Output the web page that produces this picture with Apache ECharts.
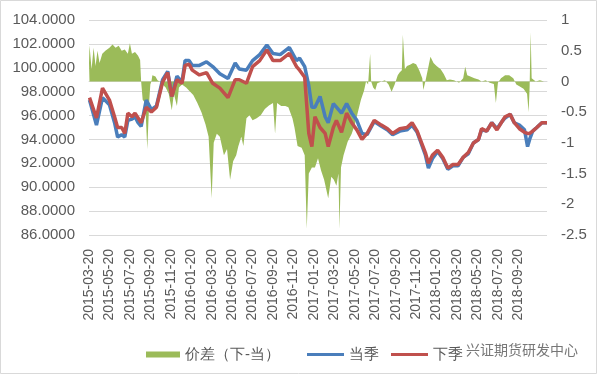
<!DOCTYPE html>
<html>
<head>
<meta charset="utf-8">
<script src="https://cdn.jsdelivr.net/npm/echarts@6/dist/echarts.min.js"></script>
<style>
  html, body { margin: 0; padding: 0; background: #fff; }
  #myChart { width: 600px; height: 377px; }
</style>
</head>
<body>
<div id="myChart"></div>
<script>
// x = months since 2015-03-20
const dateLabels = ['2015-03-20', '2015-05-20', '2015-07-20', '2015-09-20', '2015-11-20',
  '2016-01-20', '2016-03-20', '2016-05-20', '2016-07-20', '2016-09-20', '2016-11-20',
  '2017-01-20', '2017-03-20', '2017-05-20', '2017-07-20', '2017-09-20', '2017-11-20',
  '2018-01-20', '2018-03-20', '2018-05-20', '2018-07-20', '2018-09-20']

const months = [0.05, 0.73, 1.32, 2.0, 2.5, 2.8, 3.2, 3.5, 3.8, 4.2,
  4.5, 4.8, 5.1, 5.6, 6.1, 6.6, 7.2, 7.7, 8.1, 8.6,
  9.1, 9.4, 9.8, 10.1, 10.8, 11.5, 12.1, 12.8, 13.6, 14.3,
  14.7, 15.4, 16.0, 16.7, 17.4, 18.0, 18.7, 19.6, 20.3, 20.6,
  21.1, 21.5, 21.8, 22.1, 22.6, 23.1, 23.4, 23.9, 24.2, 24.7,
  25.2, 25.7, 26.2, 26.7, 27.2, 27.9, 28.6, 29.2, 29.7, 30.4,
  31.1, 31.6, 32.1, 32.4, 32.9, 33.2, 33.6, 34.1, 34.6, 35.1,
  35.6, 36.1, 36.6, 37.1, 37.6, 38.1, 38.4, 38.9, 39.4, 39.9,
  40.4, 40.7, 41.2, 41.6, 42.1, 42.6, 42.9, 43.1, 43.4, 43.8,
  44.3, 44.8]

// 当季
const dangji = [97.3, 95.2, 97.5, 96.9, 95.4, 94.2, 94.4, 94.2, 95.6, 95.7,
  95.9, 95.4, 95.1, 97.3, 96.5, 96.8, 99.0, 99.7, 97.6, 99.3,
  98.8, 100.6, 100.6, 100.2, 100.2, 100.5, 100.1, 99.5, 99.1, 100.4,
  99.9, 99.8, 100.6, 101.1, 101.9, 101.2, 101.1, 101.7, 100.6, 100.8,
  100.1, 98.5, 96.7, 96.7, 97.6, 95.9, 95.4, 97.0, 96.7, 96.2,
  97.0, 96.2, 95.6, 94.5, 94.4, 95.5, 95.1, 94.8, 94.4, 94.7,
  94.8, 95.2, 94.6, 93.9, 92.7, 91.6, 92.4, 93.0, 92.4, 91.5,
  91.8, 91.8, 92.5, 92.8, 93.7, 94.0, 94.8, 94.7, 95.4, 94.9,
  95.5, 95.8, 96.1, 95.4, 95.2, 94.8, 93.4, 94.0, 94.7, 95.0,
  95.4, 95.4]

// 下季
const xiaji = [97.5, 95.8, 98.3, 97.3, 95.9, 95.0, 95.0, 94.5, 96.2, 95.9,
  96.2, 95.8, 95.4, 96.7, 96.3, 96.7, 98.8, 99.6, 97.6, 99.0,
  98.7, 100.2, 100.3, 99.8, 99.4, 99.6, 98.7, 98.3, 97.5, 99.0,
  99.0, 98.7, 100.1, 100.6, 101.5, 100.6, 100.6, 101.2, 100.1, 99.8,
  99.2, 94.5, 93.4, 95.9, 95.0, 94.5, 93.4, 95.0, 95.6, 94.6,
  96.2, 95.4, 94.8, 94.0, 94.5, 95.6, 95.2, 94.9, 94.5, 94.9,
  95.0, 95.4, 94.7, 94.0, 92.9, 92.0, 92.7, 93.1, 92.5, 91.6,
  91.9, 91.9, 92.5, 92.9, 93.7, 94.0, 94.9, 94.7, 95.4, 94.8,
  95.5, 95.9, 96.1, 95.4, 94.9, 94.6, 94.5, 94.5, 94.7, 95.0,
  95.4, 95.4]

// 价差（下-当）, right axis
const spreadMonths = [0, 0.05, 0.25, 0.45, 0.64, 0.83, 1.03, 1.3, 1.6, 2.0,
  2.3, 2.6, 2.9, 3.2, 3.5, 3.8, 4.0, 4.2, 4.5, 4.8,
  5.0, 5.1, 5.25, 5.5, 5.7, 5.9, 6.0, 6.1, 6.2, 6.5,
  6.7, 6.9, 7.2, 7.5, 7.8, 8.1, 8.3, 8.6, 8.8, 9.1,
  9.5, 9.8, 10.2, 10.6, 11.0, 11.4, 11.7, 12.0, 12.2, 12.5,
  12.8, 13.2, 13.5, 13.8, 14.1, 14.4, 14.6, 14.9, 15.1, 15.4,
  15.7, 16.0, 16.4, 16.8, 17.2, 17.6, 18.0, 18.2, 18.4, 18.8,
  19.2, 19.5, 19.9, 20.1, 20.4, 20.8, 21.1, 21.3, 21.5, 21.8,
  22.1, 22.4, 22.7, 23.0, 23.4, 23.7, 23.95, 24.2, 24.4, 24.5,
  24.65, 24.9, 25.3, 25.7, 26.0, 26.3, 26.6, 26.9, 27.1, 27.3,
  27.5, 27.6, 27.8, 28.0, 28.2, 28.6, 28.95, 29.3, 29.6, 29.9,
  30.2, 30.4, 30.6, 30.7, 30.9, 31.1, 31.4, 31.7, 32.0, 32.3,
  32.6, 32.7, 32.9, 33.2, 33.4, 33.7, 34.0, 34.4, 34.7, 35.0,
  35.3, 35.7, 36.2, 36.6, 36.8, 37.0, 37.3, 37.7, 38.1, 38.4,
  38.8, 39.2, 39.6, 39.8, 40.0, 40.3, 40.7, 41.1, 41.5, 41.8,
  42.1, 42.5, 42.85, 43.0, 43.1, 43.2, 43.3, 43.7, 44.1, 44.5,
  44.8]
const spread = [0.3, 0.59, 0.2, 0.55, 0.25, 0.5, 0.3, 0.45, 0.5, 0.55,
  0.6, 0.55, 0.58, 0.5, 0.52, 0.45, 0.62, 0.45, 0.48, 0.42,
  0.35, 0.0, -0.3, -0.35, -1.1, -0.3, -0.05, 0.0, 0.1, 0.08,
  0.02, 0.0, -0.05, -0.1, -0.2, -0.47, -0.2, -0.4, -0.1, -0.05,
  -0.1, -0.15, -0.22, -0.35, -0.5, -0.7, -0.9, -1.9, -1.0, -0.85,
  -0.9, -1.2, -1.1, -1.6, -1.3, -1.2, -1.06, -0.9, -1.05, -0.6,
  -0.55, -0.63, -0.6, -0.55, -0.45, -0.39, -0.35, -0.85, -0.35, -0.4,
  -0.4, -0.42, -0.6, -0.75, -1.05, -1.08, -1.2, -2.4, -1.5, -1.4,
  -1.4, -1.25, -1.45, -1.6, -1.9, -1.55, -1.6, -1.7, -1.5, -2.4,
  -1.4, -1.2, -0.98, -0.85, -0.7, -0.5, -0.3, -0.15, 0.0, -0.05,
  0.45, 0.0, -0.1, -0.14, -0.03, 0.0, 0.02, -0.05, -0.17, -0.05,
  0.1, 0.15, 0.18, 0.76, 0.2, 0.25, 0.27, 0.3, 0.28, 0.18,
  0.05, -0.14, 0.0, 0.24, 0.4, 0.3, 0.25, 0.2, 0.12, 0.02,
  0.03, 0.02, -0.02, 0.05, 0.24, 0.1, 0.08, 0.05, 0.03, 0.0,
  0.02, -0.02, -0.04, -0.35, -0.02, 0.05, 0.1, 0.1, 0.05, -0.05,
  -0.08, -0.12, -0.2, -0.5, -0.1, 0.8, 0.05, 0.0, 0.02, 0.0,
  -0.02]

const textColor = '#595959'
const gridColor = '#d9d9d9'
const font = 'Liberation Sans, Arial, sans-serif'

let myChart = echarts.init(document.getElementById('myChart'))

let option = {
  animation: false,
  backgroundColor: '#fff',
  grid: { left: 89, right: 53, top: 20, bottom: 142, outerBoundsMode: 'none' },
  // two legends: the bar-like swatch for the area, thin swatches for the lines
  legend: [
    {
      top: 342,
      left: 141,
      icon: 'rect',
      itemWidth: 34,
      itemHeight: 6,
      textStyle: { color: textColor, fontSize: 15, fontFamily: font },
      data: ['价差（下-当）']
    },
    {
      top: 342,
      left: 302,
      icon: 'rect',
      itemWidth: 37,
      itemHeight: 3,
      itemGap: 12,
      textStyle: { color: textColor, fontSize: 15, fontFamily: font },
      data: ['当季', '下季']
    }
  ],
  xAxis: {
    type: 'value',
    min: 0,
    max: 44.8,
    interval: 2,
    axisLine: { show: true, lineStyle: { color: gridColor } },
    axisTick: { show: false },
    splitLine: { show: false },
    axisLabel: {
      rotate: 90,
      margin: 14,
      color: textColor,
      fontSize: 14,
      fontFamily: font,
      showMaxLabel: false,
      formatter: v => dateLabels[Math.round(v / 2)] || ''
    }
  },
  yAxis: [
    {
      type: 'value',
      min: 86,
      max: 104,
      interval: 2,
      axisLine: { show: false },
      axisTick: { show: false },
      splitLine: { lineStyle: { color: gridColor, width: 1 } },
      axisLabel: { color: textColor, fontSize: 15, fontFamily: font, margin: 14,
        formatter: v => v.toFixed(4) }
    },
    {
      type: 'value',
      min: -2.5,
      max: 1,
      interval: 0.5,
      axisLine: { show: false },
      axisTick: { show: false },
      splitLine: { show: false },
      axisLabel: { color: textColor, fontSize: 15, fontFamily: font, margin: 14 }
    }
  ],
  graphic: [
    {
      type: 'rect',
      shape: { x: 0.5, y: 0.5, width: 596, height: 373 },
      style: { fill: 'none', stroke: gridColor, lineWidth: 1 },
      silent: true
    },
    {
      type: 'text',
      left: 466,
      top: 343,
      style: { text: '兴证期货研发中心', fill: '#777', font: '14px "Noto Sans CJK SC", sans-serif' },
      silent: true,
      z: 100
    }
  ],
  series: [
    {
      name: '价差（下-当）',
      type: 'line',
      yAxisIndex: 1,
      symbol: 'none',
      lineStyle: { width: 0 },
      itemStyle: { color: '#9BBB59' },
      areaStyle: { color: '#9BBB59', opacity: 1 },
      data: spreadMonths.map((m, i) => [m, spread[i]])
    },
    {
      name: '当季',
      type: 'line',
      symbol: 'none',
      lineStyle: { width: 3.5, color: '#4A7EBB' },
      itemStyle: { color: '#4A7EBB' },
      data: months.map((m, i) => [m, dangji[i]])
    },
    {
      name: '下季',
      type: 'line',
      symbol: 'none',
      lineStyle: { width: 3.5, color: '#C0504D' },
      itemStyle: { color: '#C0504D' },
      data: months.map((m, i) => [m, xiaji[i]])
    }
  ]
}

myChart.setOption(option)
</script>
</body>
</html>
